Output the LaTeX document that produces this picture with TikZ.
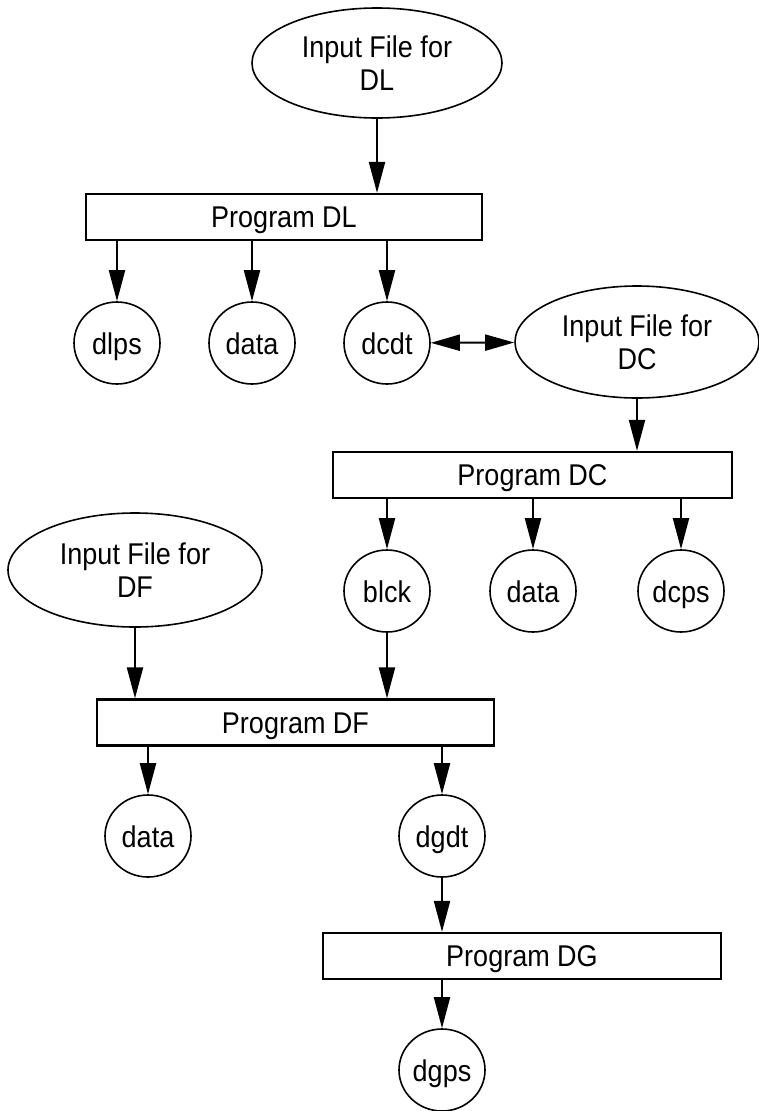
\documentclass[tikz,border=0pt]{standalone}
\usepackage{fontspec}
\setmainfont[FakeStretch=0.9]{Liberation Sans}
\usetikzlibrary{arrows.meta,shapes.geometric}
\begin{document}
\begin{tikzpicture}[x=1pt,y=-1pt,
  every node/.style={font=\fontsize{30}{33}\selectfont, inner sep=0pt, align=center},
  prog/.style={draw, line width=2.2pt, minimum height=46pt, text height=21pt, text depth=0pt},
  infile/.style={draw, ellipse, line width=1.6pt},
  dfile/.style={draw, ellipse, line width=1.6pt, minimum width=86pt, minimum height=82pt, text height=22pt, text depth=0pt},
  arr/.style={line width=2pt, -{Triangle[length=31pt,width=16pt]}},
  darr/.style={line width=2pt, {Triangle[length=29pt,width=16pt]}-{Triangle[length=29pt,width=16pt]}}
]
\useasboundingbox (0,0) rectangle (758,1111);
\node[infile, minimum width=250pt, minimum height=110pt] (eDL) at (377,63) {Input File for\\DL};
\node[prog, minimum width=396pt] (rDL) at (284,217) {Program DL};
\node[dfile] (dlps) at (117,343) {dlps};
\node[dfile] (data1) at (252,343) {data};
\node[dfile] (dcdt) at (387,343) {dcdt};
\node[infile, minimum width=244pt, minimum height=112pt] (eDC) at (637,342) {Input File for\\DC};
\node[prog, minimum width=399pt] (rDC) at (532.5,475) {Program DC};
\node[dfile] (blck) at (387,591) {blck};
\node[dfile] (data2) at (533,591) {data};
\node[dfile] (dcps) at (681,591) {dcps};
\node[infile, minimum width=254pt, minimum height=114pt] (eDF) at (135,570) {Input File for\\DF};
\node[prog, minimum width=397pt] (rDF) at (295.5,722.5) {Program DF};
\node[dfile] (data3) at (148,836) {data};
\node[dfile] (dgdt) at (442,836) {dgdt};
\node[prog, minimum width=398pt] (rDG) at (522,956) {Program DG};
\node[dfile] (dgps) at (442,1070) {dgps};
\draw[arr] (eDL) -- (eDL |- rDL.north);
\draw[arr] (dlps |- rDL.south) -- (dlps);
\draw[arr] (data1 |- rDL.south) -- (data1);
\draw[arr] (dcdt |- rDL.south) -- (dcdt);
\draw[darr] (dcdt) -- (eDC);
\draw[arr] (eDC) -- (eDC |- rDC.north);
\draw[arr] (blck |- rDC.south) -- (blck);
\draw[arr] (data2 |- rDC.south) -- (data2);
\draw[arr] (dcps |- rDC.south) -- (dcps);
\draw[arr] (eDF) -- (eDF |- rDF.north);
\draw[arr] (blck) -- (blck |- rDF.north);
\draw[arr] (data3 |- rDF.south) -- (data3);
\draw[arr] (dgdt |- rDF.south) -- (dgdt);
\draw[arr] (dgdt) -- (dgdt |- rDG.north);
\draw[arr] (dgps |- rDG.south) -- (dgps);
\end{tikzpicture}
\end{document}
